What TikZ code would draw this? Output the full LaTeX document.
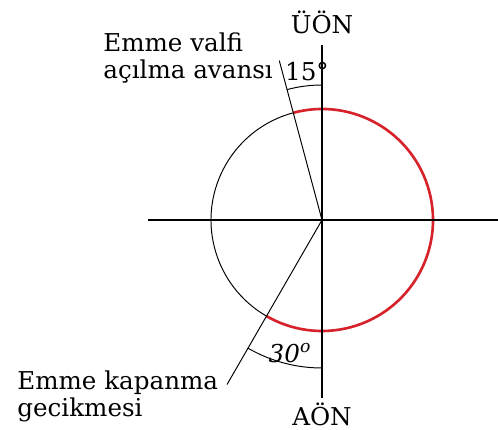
\documentclass[tikz,border=0pt]{standalone}
\usepackage{fontspec}
\setmainfont{DejaVu Serif}
\usetikzlibrary{arrows.meta,calc,positioning}
\definecolor{cycred}{RGB}{214,34,42}

\begin{document}
\begin{tikzpicture}[x=0.02cm,y=0.02cm,font=\fontsize{14}{15.4}\selectfont]
  \useasboundingbox (-322,-210) rectangle (176,220);
  \tikzset{axis/.style={line width=1.3pt},thin line/.style={line width=0.55pt},
    label/.style={inner sep=0pt,align=left,anchor=north west}}
  \coordinate (o) at (0,0);
  \coordinate (ust) at (0,175);
  \coordinate (alt) at (0,-178);
  \coordinate (sol) at (-174,0);
  \coordinate (sag) at (176,0);
  \coordinate (av) at (105:165);
  \coordinate (gc) at (240:190);
  % circle
  \draw[thin line] (105:111) arc[start angle=105,end angle=240,radius=111];
  \draw[cycred,line width=1.5pt] (105:111) arc[start angle=105,end angle=-120,radius=111];
  % axes
  \draw[axis] (ust) -- (alt);
  \draw[axis] (sol) -- (sag);
  % valve lines and angles
  \draw[thin line] (o) -- (av);
  \draw[thin line] (o) -- (gc);
  \draw[thin line] (90:135) arc[start angle=90,end angle=105,radius=135];
  \draw[thin line] (270:148) arc[start angle=270,end angle=240,radius=148];
  \node[anchor=base] (uon) at (0,187) {ÜÖN};
  \node[anchor=base] (aon) at (0,-205) {AÖN};
  \node[anchor=base] (a15) at (-15,140) {15°};
  \node[anchor=base] (a30) at (-32,-142) {\textit{30\textsuperscript{o}}};
  \node[label] (avans) at (-219,188) {Emme valfi\\açılma avansı};
  \node[label] (gecik) at (-305,-150) {Emme kapanma\\gecikmesi};
\end{tikzpicture}
\end{document}
